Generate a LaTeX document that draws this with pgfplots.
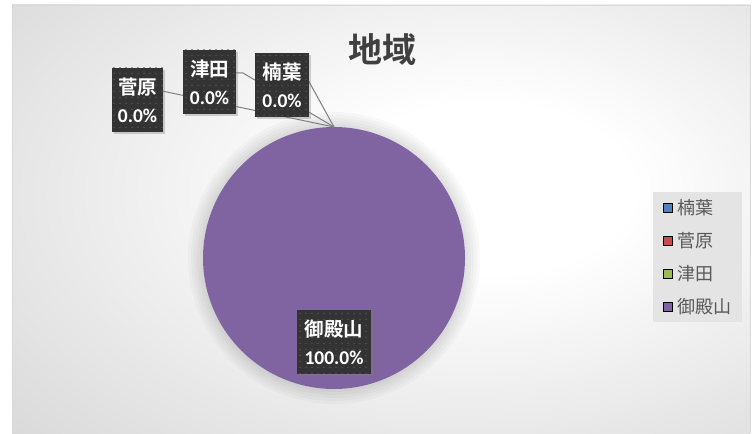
\documentclass[border=0pt]{standalone}
\usepackage{pgfplots}
\pgfplotsset{compat=1.18}
\usepackage{fontspec}
\setmainfont{Carlito}
\newfontfamily\cjk{Noto Sans CJK JP}[BoldFont={Noto Sans CJK JP Bold}]
\usetikzlibrary{shadows,patterns.meta}
\definecolor{piepurple}{HTML}{8064A2}
\definecolor{legblue}{HTML}{4F81BD}
\definecolor{legred}{HTML}{C0504D}
\definecolor{leggreen}{HTML}{9BBB59}
\definecolor{bgedge}{HTML}{D0D0D0}
\definecolor{legbg}{HTML}{E4E4E4}
\definecolor{legtext}{HTML}{595959}
\definecolor{titlegray}{HTML}{404040}
\definecolor{lblfill}{HTML}{333333}
\definecolor{lbldot}{HTML}{5C5C5C}
\definecolor{linegray}{HTML}{7F7F7F}
\pgfdeclareradialshading{bgshade}{\pgfpoint{8bp}{4bp}}{color(0bp)=(white); color(10bp)=(white); color(48bp)=(bgedge); color(90bp)=(bgedge)}
\pgfplotsset{sqleg/.style={legend image code/.code={\fill[##1] (0pt,-4.5pt) rectangle (9pt,4.5pt);}}}
\pgfplotsset{halo/.style={fill=black, fill opacity=0.022, draw=none, domain=90:-270, samples=181, forget plot}}
\tikzset{lbl/.style={draw=none, fill=lblfill,
  postaction={pattern={Dots[radius=0.7pt,distance=6pt]}, pattern color=lbldot},
  drop shadow={shadow xshift=2pt, shadow yshift=-2pt, opacity=0.35},
  text=white, font=\bfseries\fontsize{19.5}{28}\selectfont, align=center,
  inner sep=0pt, minimum height=64pt}}
\begin{document}
\begin{tikzpicture}
\fill[white] (0pt,0pt) rectangle (754pt,433pt);
\shade[shading=bgshade] (12pt,0pt) rectangle (750pt,428pt);
\draw[gray!30, line width=0.8pt] (12pt,0pt) -- (12pt,428pt) -- (750pt,428pt) -- (750pt,0pt);
\begin{axis}[at={(0pt,0pt)}, anchor=south west, x=1pt, y=1pt,
  xmin=0, xmax=754, ymin=0, ymax=433, hide axis, clip=false,
  legend cell align=left,
  legend style={at={(axis cs:653,241)}, anchor=north west, draw=none, fill=legbg,
    font=\cjk\fontsize{18}{20}\selectfont, text=legtext, row sep=16.5pt,
    inner xsep=10pt, inner ysep=7pt, nodes={inner sep=0pt},
    /tikz/every odd column/.append style={column sep=5pt}}]
\addplot[halo] ({334+146*cos(x)}, {175+146*sin(x)});
\addplot[halo] ({334+143*cos(x)}, {175+143*sin(x)});
\addplot[halo] ({334+140*cos(x)}, {175+140*sin(x)});
\addplot[halo] ({334+137*cos(x)}, {175+137*sin(x)});
\addplot[halo] ({334+134*cos(x)}, {175+134*sin(x)});
\addplot[fill=piepurple, draw=none, domain=90:-270, samples=241, forget plot]
  ({334+131*cos(x)}, {175+131*sin(x)});
\addlegendimage{sqleg, fill=legblue}
\addlegendentry{楠葉}
\addlegendimage{sqleg, fill=legred}
\addlegendentry{菅原}
\addlegendimage{sqleg, fill=leggreen}
\addlegendentry{津田}
\addlegendimage{sqleg, fill=piepurple}
\addlegendentry{御殿山}
\draw[linegray, line width=1pt] (axis cs:162,342) -- (axis cs:334,306);
\draw[linegray, line width=1pt] (axis cs:235,360) -- (axis cs:243,360) -- (axis cs:334,306);
\draw[linegray, line width=1pt] (axis cs:307,355) -- (axis cs:334,306);
\node[lbl, minimum width=51pt] at (axis cs:137.5,333) {{\cjk 菅原}\\0.0\%};
\node[lbl, minimum width=53pt] at (axis cs:209.5,351) {{\cjk 津田}\\0.0\%};
\node[lbl, minimum width=54pt] at (axis cs:282,348) {{\cjk 楠葉}\\0.0\%};
\node[lbl, minimum width=74pt] at (axis cs:334,90.5) {{\cjk 御殿山}\\100.0\%};
\node[font=\cjk\bfseries\fontsize{34}{40}\selectfont, text=titlegray] at (axis cs:382,383) {地域};
\end{axis}
\end{tikzpicture}
\end{document}
